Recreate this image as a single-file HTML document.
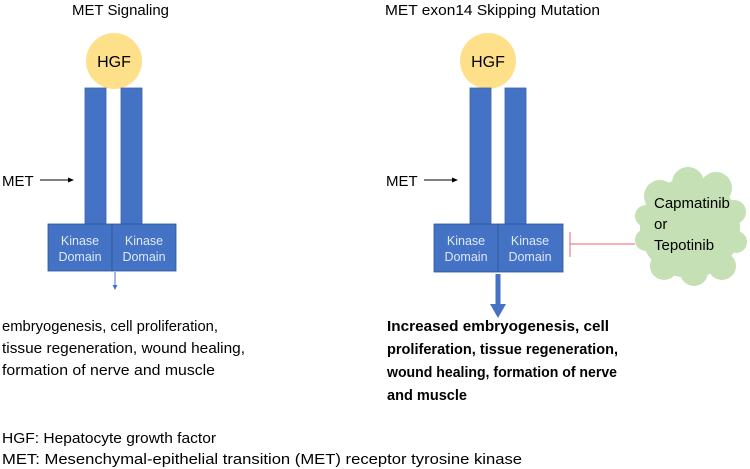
<!DOCTYPE html>
<html><head><meta charset="utf-8"><style>
html,body{margin:0;padding:0;background:#fff;}
svg{display:block;font-family:"Liberation Sans",sans-serif;}
</style></head><body>
<svg width="750" height="469" viewBox="0 0 750 469" xmlns="http://www.w3.org/2000/svg">
<defs>
<marker id="ah" markerWidth="6" markerHeight="6" refX="5" refY="3" orient="auto"><path d="M0,0.5 L6,3 L0,5.5z" fill="#000"/></marker>
</defs>
<g font-size="15" fill="#000">
<text x="72" y="15" textLength="97" lengthAdjust="spacingAndGlyphs">MET Signaling</text>
<text x="385" y="15" textLength="215" lengthAdjust="spacingAndGlyphs">MET exon14 Skipping Mutation</text>
</g>
<!-- left -->
<circle cx="114" cy="61" r="28" fill="#ffe08a"/>
<text x="114" y="67" font-size="16" text-anchor="middle">HGF</text>
<rect x="85" y="88" width="21" height="136" fill="#4472c4" stroke="#3a62a8" stroke-width="0.8"/>
<rect x="121" y="88" width="21" height="136" fill="#4472c4" stroke="#3a62a8" stroke-width="0.8"/>
<rect x="48" y="224" width="64" height="47" fill="#4472c4" stroke="#2f5597" stroke-width="0.8"/>
<rect x="112" y="224" width="64" height="47" fill="#4472c4" stroke="#2f5597" stroke-width="0.8"/>
<g font-size="12.5" fill="#dfe8f7" text-anchor="middle">
<text x="80" y="245">Kinase</text><text x="80" y="261">Domain</text>
<text x="144" y="245">Kinase</text><text x="144" y="261">Domain</text>
</g>
<text x="2" y="186" font-size="15">MET</text>
<line x1="40" y1="180" x2="73" y2="180" stroke="#000" stroke-width="1" marker-end="url(#ah)"/>
<line x1="115" y1="272" x2="115" y2="286" stroke="#4472c4" stroke-width="1"/>
<path d="M112.5,285 L117.5,285 L115,290z" fill="#4472c4"/>
<g font-size="15">
<text x="2" y="331" textLength="216" lengthAdjust="spacingAndGlyphs">embryogenesis, cell proliferation,</text>
<text x="2" y="353" textLength="243" lengthAdjust="spacingAndGlyphs">tissue regeneration, wound healing,</text>
<text x="2" y="375" textLength="213" lengthAdjust="spacingAndGlyphs">formation of nerve and muscle</text>
</g>
<!-- right -->
<circle cx="488" cy="61" r="28" fill="#ffe08a"/>
<text x="488" y="67" font-size="16" text-anchor="middle">HGF</text>
<rect x="470" y="88" width="21" height="136" fill="#4472c4" stroke="#3a62a8" stroke-width="0.8"/>
<rect x="505" y="88" width="21" height="136" fill="#4472c4" stroke="#3a62a8" stroke-width="0.8"/>
<rect x="434" y="224" width="64" height="48" fill="#4472c4" stroke="#2f5597" stroke-width="0.8"/>
<rect x="498" y="224" width="65" height="48" fill="#4472c4" stroke="#2f5597" stroke-width="0.8"/>
<g font-size="12.5" fill="#dfe8f7" text-anchor="middle">
<text x="466" y="245">Kinase</text><text x="466" y="261">Domain</text>
<text x="530" y="245">Kinase</text><text x="530" y="261">Domain</text>
</g>
<text x="386" y="186" font-size="15">MET</text>
<line x1="424" y1="180" x2="457" y2="180" stroke="#000" stroke-width="1" marker-end="url(#ah)"/>
<rect x="495.5" y="274" width="5" height="32" fill="#4472c4"/>
<path d="M490,304 L506,304 L498,318z" fill="#4472c4"/>
<line x1="570" y1="244" x2="635" y2="244" stroke="#f06060" stroke-width="1"/>
<line x1="570" y1="232" x2="570" y2="257" stroke="#f06060" stroke-width="1"/>
<g fill="#c5e0b4">
<ellipse cx="690" cy="228" rx="50" ry="50"/>
<circle cx="660" cy="196" r="16"/><circle cx="688" cy="183" r="16"/><circle cx="716" cy="188" r="16"/>
<circle cx="734" cy="212" r="12"/><circle cx="736" cy="242" r="11"/><circle cx="722" cy="266" r="14"/>
<circle cx="694" cy="272" r="14"/><circle cx="664" cy="266" r="14"/><circle cx="646" cy="240" r="11"/><circle cx="646" cy="216" r="11"/>
</g>
<g font-size="15">
<text x="654" y="208">Capmatinib</text>
<text x="654" y="229">or</text>
<text x="654" y="250">Tepotinib</text>
</g>
<g font-size="14.5" font-weight="bold">
<text x="387" y="331" textLength="222" lengthAdjust="spacingAndGlyphs">Increased embryogenesis, cell</text>
<text x="387" y="354" textLength="231" lengthAdjust="spacingAndGlyphs">proliferation, tissue regeneration,</text>
<text x="387" y="377" textLength="230" lengthAdjust="spacingAndGlyphs">wound healing, formation of nerve</text>
<text x="387" y="400" textLength="80" lengthAdjust="spacingAndGlyphs">and muscle</text>
</g>
<g font-size="15">
<text x="2" y="443" textLength="214" lengthAdjust="spacingAndGlyphs">HGF: Hepatocyte growth factor</text>
<text x="2" y="464" textLength="520" lengthAdjust="spacingAndGlyphs">MET: Mesenchymal-epithelial transition (MET) receptor tyrosine kinase</text>
</g>
</svg>
</body></html>
